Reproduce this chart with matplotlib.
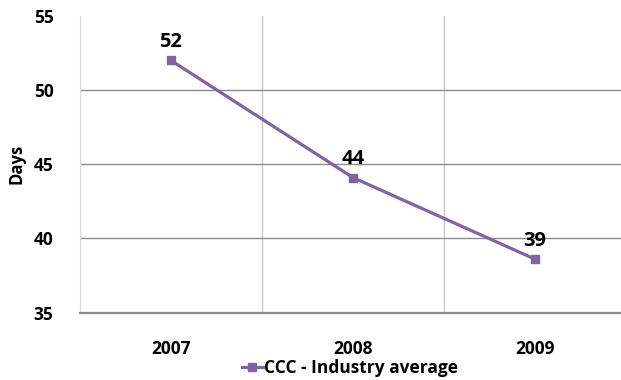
import matplotlib
matplotlib.use("Agg")
import matplotlib.pyplot as plt
from matplotlib.ticker import FixedLocator

years = ["2007", "2008", "2009"]
ccc_days = [52.0, 44.1, 38.6]
series_name = "CCC - Industry average"
y_ticks = [35, 40, 45, 50, 55]

purple = "#8064A2"
font = ["Open Sans", "DejaVu Sans"]

fig = plt.figure(figsize=(6.21, 3.80), dpi=100)
W, H = 621, 380
left, right, top, bottom = 80, 626, 16, 312.5
ax = fig.add_axes([left / W, 1 - bottom / H, (right - left) / W, (bottom - top) / H])

x = list(range(len(years)))
ax.plot(x, ccc_days, color=purple, lw=2.3, marker="s", ms=5.5,
        markeredgecolor=purple, label=series_name, zorder=3, clip_on=False)

for xi, v in zip(x, ccc_days):
    ax.annotate(f"{v:.0f}", (xi, v), xytext=(0, 6), textcoords="offset points",
                ha="center", va="bottom", fontsize=14.5, fontweight="bold",
                family=font, color="black")

ax.set_xlim(-0.5, len(years) - 0.5)
ax.set_ylim(y_ticks[0], y_ticks[-1])
ax.set_yticks(y_ticks)
ax.set_xticks(x)
ax.set_xticklabels(years)
ax.xaxis.set_minor_locator(FixedLocator([0.5, 1.5]))

ax.grid(axis="y", which="major", color="#8c8c8c", lw=1.0)
ax.grid(axis="x", which="minor", color="#c8c8c8", lw=1.0)
ax.set_axisbelow(True)
# no gridline along the top edge
ax.yaxis.get_gridlines()[-1].set_visible(False)

for s in ["top", "right"]:
    ax.spines[s].set_visible(False)
ax.spines["left"].set_color("#d9d9d9")
ax.spines["left"].set_linewidth(1.0)
ax.spines["bottom"].set_color("#8c8c8c")
ax.spines["bottom"].set_linewidth(1.6)

ax.tick_params(axis="both", which="both", length=0)
ax.tick_params(axis="y", pad=19)
ax.tick_params(axis="x", pad=20)
for lab in ax.get_yticklabels() + ax.get_xticklabels():
    lab.set_fontsize(12.5)
    lab.set_fontweight("bold")
    lab.set_family(font)

ax.set_ylabel("Days", fontsize=12, fontweight="bold", family=font, labelpad=6)

leg = fig.legend(loc="center", bbox_to_anchor=(350 / W, 1 - 368 / H), frameon=False,
                 handlelength=1.2, handletextpad=0.1, borderpad=0,
                 prop={"family": font, "weight": "bold", "size": 12.5})

fig.savefig("out.png", dpi=100)
